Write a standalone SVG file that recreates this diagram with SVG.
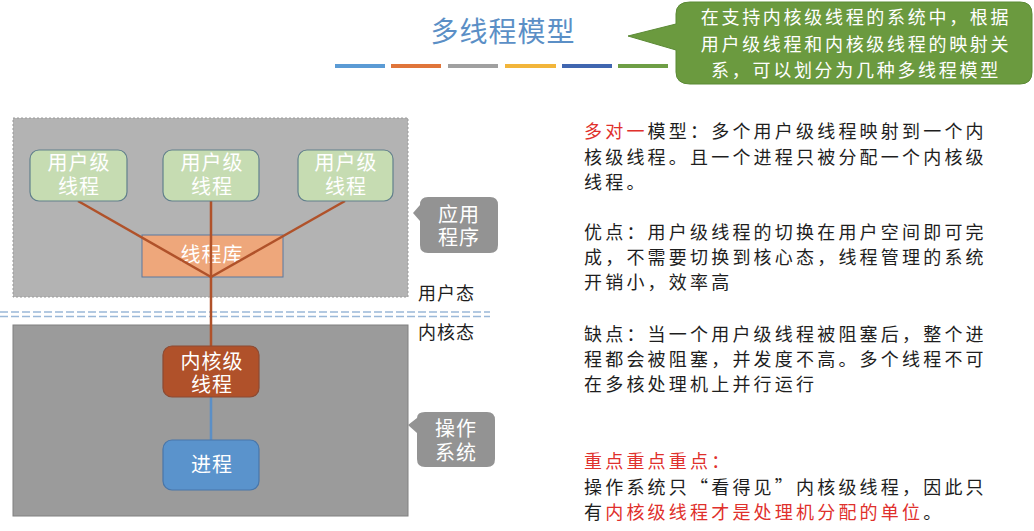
<svg xmlns="http://www.w3.org/2000/svg" width="1034" height="531" viewBox="0 0 1034 531">
<style>
text{font-family:"Noto Sans CJK SC","Liberation Sans",sans-serif}
.node text,.lbl{fill:#ffffff;font-size:20px;text-anchor:middle;letter-spacing:1px}
.body{font-size:18px;fill:#1e1e1e;letter-spacing:3.2px}
.red{fill:#e0302c}
.state{font-size:18px;fill:#1e1e1e;letter-spacing:1px}
.green rect{fill:#c6dcb2;stroke:#62808c;stroke-width:1.2}
.conn{stroke:#b0522a;stroke-width:2.5;fill:none}
.ct{font-size:18px;fill:#ffffff;text-anchor:middle;letter-spacing:2.7px}
</style>
<rect width="1034" height="531" fill="#ffffff"/>

<!-- title -->
<text x="503" y="42" font-size="28" fill="#5b8fc6" text-anchor="middle" letter-spacing="1">多线程模型</text>
<g id="bars">
<rect x="335" y="64" width="50" height="4" fill="#5b9bd5"/>
<rect x="391" y="64" width="50" height="4" fill="#e0753a"/>
<rect x="448" y="64" width="50" height="4" fill="#a0a0a0"/>
<rect x="505" y="64" width="51" height="4" fill="#f2b53a"/>
<rect x="562" y="64" width="50" height="4" fill="#4066b0"/>
<rect x="618" y="64" width="50" height="4" fill="#6e9e45"/>
</g>

<!-- green callout -->
<g id="callout-top">
<path d="M690,2 H1020 Q1032,2 1032,14 V72 Q1032,84 1020,84 H690 Q676,84 676,72 V50 L628,36 L676,24 V14 Q676,2 690,2 Z" fill="#6b9a3f" stroke="#5b8a35" stroke-width="1"/>
<text class="ct" x="856" y="24">在支持内核级线程的系统中，根据</text>
<text class="ct" x="856" y="51">用户级线程和内核级线程的映射关</text>
<text class="ct" x="856" y="77">系，可以划分为几种多线程模型</text>
</g>

<!-- containers -->
<g id="app-area">
<rect x="13" y="118" width="395" height="179" fill="#b3b3b3" stroke="#9a9a9a" stroke-width="1" stroke-dasharray="2,2"/>
</g>
<g id="os-area">
<rect x="13" y="325" width="395" height="191" fill="#9b9b9b" stroke="#808080" stroke-width="1"/>
</g>

<!-- mode divider -->
<g id="divider" stroke="#9ab8d8" stroke-width="1.6" stroke-dasharray="8,3">
<line x1="0" y1="312" x2="490" y2="312"/>
<line x1="0" y1="316.5" x2="490" y2="316.5"/>
</g>
<text class="state" x="418" y="300">用户态</text>
<text class="state" x="418" y="339">内核态</text>

<!-- thread library (drawn before connectors) -->
<g id="thread-lib" class="node">
<rect x="142" y="235" width="141" height="42" fill="#eea77b" stroke="#5a78a0" stroke-width="1"/>
<text x="212" y="262">线程库</text>
</g>

<!-- connectors -->
<g id="connectors">
<line class="conn" x1="78" y1="201" x2="211" y2="277"/>
<line class="conn" x1="345" y1="201" x2="211" y2="277"/>
<line class="conn" x1="211" y1="201" x2="211" y2="346"/>
<line x1="211" y1="397" x2="211" y2="440" stroke="#5b8fc6" stroke-width="2.5"/>
</g>

<!-- user threads -->
<g id="ut1" class="node green">
<rect x="30" y="150" width="97" height="51" rx="9"/>
<text x="79" y="170">用户级</text>
<text x="79" y="194">线程</text>
</g>
<g id="ut2" class="node green">
<rect x="163" y="150" width="96" height="51" rx="9"/>
<text x="212" y="170">用户级</text>
<text x="212" y="194">线程</text>
</g>
<g id="ut3" class="node green">
<rect x="298" y="150" width="95" height="51" rx="9"/>
<text x="346" y="170">用户级</text>
<text x="346" y="194">线程</text>
</g>

<!-- kernel thread -->
<g id="kt" class="node">
<rect x="163" y="346" width="96" height="51" rx="9" fill="#b0512a" stroke="#8c4a32" stroke-width="1.2"/>
<text x="212" y="369">内核级</text>
<text x="212" y="392">线程</text>
</g>

<!-- process -->
<g id="proc" class="node">
<rect x="163" y="440" width="96" height="50" rx="9" fill="#5a93cc" stroke="#4876aa" stroke-width="1.2"/>
<text x="212" y="472" font-size="21">进程</text>
</g>

<!-- side callouts -->
<g id="app-label">
<path d="M428,197 H490 Q498,197 498,205 V245 Q498,253 490,253 H428 Q420,253 420,245 V221 L413,213 L420,205 Q420,197 428,197 Z" fill="#939393"/>
<text class="lbl" x="459" y="222">应用</text>
<text class="lbl" x="459" y="245">程序</text>
</g>
<g id="os-label">
<path d="M425,412 H487 Q495,412 495,420 V459 Q495,467 487,467 H425 Q417,467 417,459 V433 L408,425 L417,418 Q417,412 425,412 Z" fill="#939393"/>
<text class="lbl" x="456" y="436" font-size="19">操作</text>
<text class="lbl" x="456" y="460" font-size="19">系统</text>
</g>

<!-- right side text -->
<g id="notes">
<text class="body" x="584" y="138"><tspan class="red">多对一</tspan>模型：多个用户级线程映射到一个内</text>
<text class="body" x="584" y="164">核级线程。且一个进程只被分配一个内核级</text>
<text class="body" x="584" y="189">线程。</text>
<text class="body" x="584" y="239">优点：用户级线程的切换在用户空间即可完</text>
<text class="body" x="584" y="264">成，不需要切换到核心态，线程管理的系统</text>
<text class="body" x="584" y="289">开销小，效率高</text>
<text class="body" x="584" y="341">缺点：当一个用户级线程被阻塞后，整个进</text>
<text class="body" x="584" y="366">程都会被阻塞，并发度不高。多个线程不可</text>
<text class="body" x="584" y="391">在多核处理机上并行运行</text>
<text class="body red" x="584" y="468">重点重点重点：</text>
<text class="body" x="584" y="494">操作系统只“看得见”内核级线程，因此只</text>
<text class="body" x="584" y="519">有<tspan class="red">内核级线程才是处理机分配的单位</tspan>。</text>
</g>
</svg>
